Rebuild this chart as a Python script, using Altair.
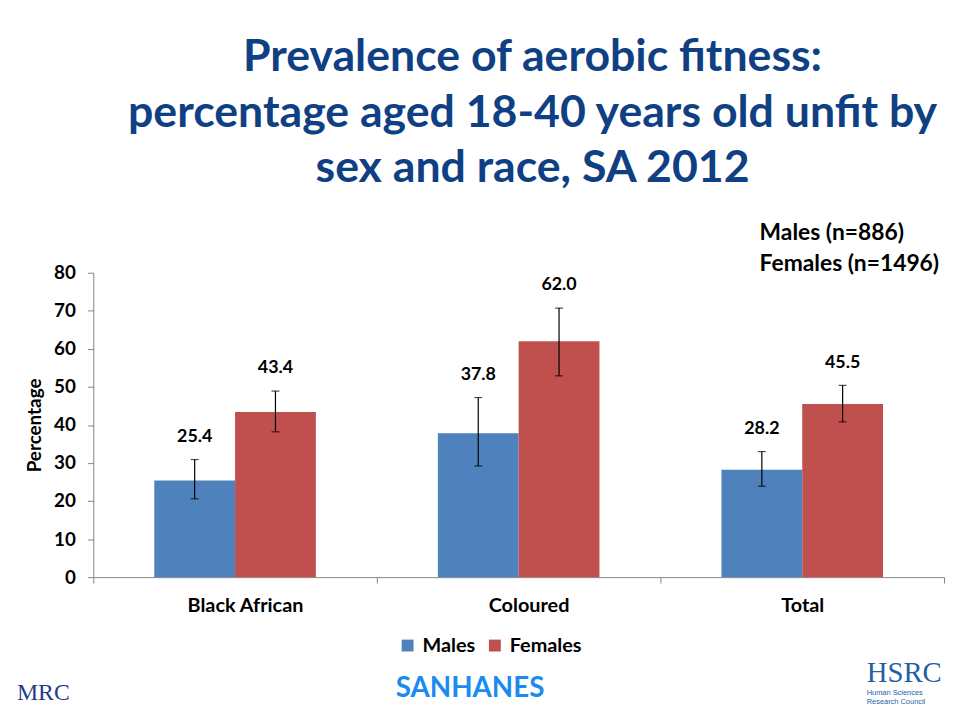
import altair as alt
import pandas as pd

categories = ["Black African", "Coloured", "Total"]
sexes = ["Males", "Females"]
male_values = [25.4, 37.8, 28.2]
female_values = [43.4, 62.0, 45.5]
male_lower = [20.6, 29.2, 23.9]
male_upper = [30.9, 47.2, 33.0]
female_lower = [38.2, 52.9, 40.8]
female_upper = [48.9, 70.7, 50.4]
colors = ["#4F81BD", "#C0504D"]
y_ticks = [0, 10, 20, 30, 40, 50, 60, 70, 80]

title_lines = ["Prevalence of aerobic fitness:",
               "percentage aged 18-40 years old unfit by",
               "sex and race, SA 2012"]
sample_lines = ["Males (n=886)", "Females (n=1496)"]
footer_text = "SANHANES"

rows = []
for i, c in enumerate(categories):
    rows.append({"category": c, "sex": "Males", "value": male_values[i],
                 "lower": male_lower[i], "upper": male_upper[i]})
    rows.append({"category": c, "sex": "Females", "value": female_values[i],
                 "lower": female_lower[i], "upper": female_upper[i]})
df = pd.DataFrame(rows)

FONT = "Lato"
AXIS_GRAY = "#868686"

y_scale = alt.Scale(domain=[0, 80], nice=False)
y_axis = alt.Axis(title="Percentage", values=y_ticks, grid=False,
                  labelOverlap=False,
                  labelFontSize=19, labelFontWeight="bold",
                  labelColor="black", labelFont=FONT,
                  titleFontSize=19, titleFontWeight="bold",
                  titleColor="black", titleFont=FONT, titlePadding=9,
                  domainColor=AXIS_GRAY, tickColor=AXIS_GRAY,
                  tickSize=6, labelPadding=12)

base = alt.Chart(df).encode(
    x=alt.X("category:N", sort=categories,
            scale=alt.Scale(paddingInner=0, paddingOuter=0),
            axis=alt.Axis(title=None, labelAngle=0, labelFontSize=20,
                          labelFontWeight="bold", labelColor="black",
                          labelFont=FONT, domainColor=AXIS_GRAY,
                          tickColor=AXIS_GRAY, tickSize=6, tickBand="extent",
                          labelPadding=13,
                          labelOffset={"condition": {"test": "datum.value !== 'Total'",
                                                     "value": 10},
                                       "value": 0})),
    xOffset=alt.XOffset("sex:N", sort=sexes,
                        scale=alt.Scale(paddingInner=0, paddingOuter=0.755)),
)

bars = base.mark_bar().encode(
    y=alt.Y("value:Q", scale=y_scale, axis=y_axis),
    color=alt.Color("sex:N", scale=alt.Scale(domain=sexes, range=colors),
                    legend=alt.Legend(title=None, orient="none", legendX=307,
                                      legendY=366, direction="horizontal",
                                      symbolType="square", symbolSize=144,
                                      symbolStrokeWidth=0, labelFontSize=20,
                                      labelFontWeight="bold", labelFont=FONT,
                                      labelColor="black", columnPadding=9,
                                      labelOffset=5)),
)

err = base.mark_rule(color="black", strokeWidth=1.2).encode(
    y=alt.Y("lower:Q", scale=y_scale, axis=y_axis), y2="upper:Q")
cap_top = base.mark_tick(color="black", size=8, thickness=1.2,
                         orient="horizontal").encode(
    y=alt.Y("upper:Q", scale=y_scale, axis=y_axis))
cap_bot = base.mark_tick(color="black", size=8, thickness=1.2,
                         orient="horizontal").encode(
    y=alt.Y("lower:Q", scale=y_scale, axis=y_axis))
labels = base.mark_text(dy=-23, fontSize=18, fontWeight="bold", font=FONT,
                        color="black", baseline="middle").encode(
    y=alt.Y("upper:Q", scale=y_scale, axis=y_axis),
    text=alt.Text("value:Q", format=".1f"))

one = alt.Data(values=[{}])

title = alt.Chart(one).mark_text(
    font=FONT, fontSize=45, fontWeight="bold", color="#0F4083",
    align="center", baseline="middle", lineHeight=56).encode(
    x=alt.value(443), y=alt.value(-217), text=alt.value(title_lines))

sample = alt.Chart(one).mark_text(
    font=FONT, fontSize=23, fontWeight="bold", color="black",
    align="left", baseline="middle", lineHeight=31).encode(
    x=alt.value(672), y=alt.value(-40), text=alt.value(sample_lines))

footer = alt.Chart(one).mark_text(
    font=FONT, fontSize=28, fontWeight="bold", color="#1C8BF0",
    align="center", baseline="middle").encode(
    x=alt.value(380), y=alt.value(420), text=alt.value(footer_text))

hsrc = alt.Chart(one).mark_text(
    font="Liberation Serif", fontSize=29, color="#1F5FA8",
    align="left", baseline="alphabetic").encode(
    x=alt.value(780), y=alt.value(413), text=alt.value("HSRC"))
hsrc_sub = alt.Chart(one).mark_text(
    font="Liberation Sans", fontSize=7.5, color="#1F5FA8",
    align="left", baseline="alphabetic", lineHeight=8.5).encode(
    x=alt.value(780), y=alt.value(426),
    text=alt.value(["Human Sciences", "Research Council"]))
mrc = alt.Chart(one).mark_text(
    font="Liberation Serif", fontSize=24, color="#1F3C88",
    align="left", baseline="alphabetic").encode(
    x=alt.value(-77), y=alt.value(431), text=alt.value("MRC"))

chart = alt.layer(bars, err, cap_top, cap_bot, labels, title, sample,
                  footer, hsrc, hsrc_sub, mrc).properties(
    width=858, height=307,
    autosize=alt.AutoSizeParams(type="none"),
    padding={"left": 86, "top": 264, "right": 3, "bottom": 130},
    background="white",
).configure_view(stroke=None)

chart.save("out.html", embed_options={"renderer": "svg", "actions": False})
